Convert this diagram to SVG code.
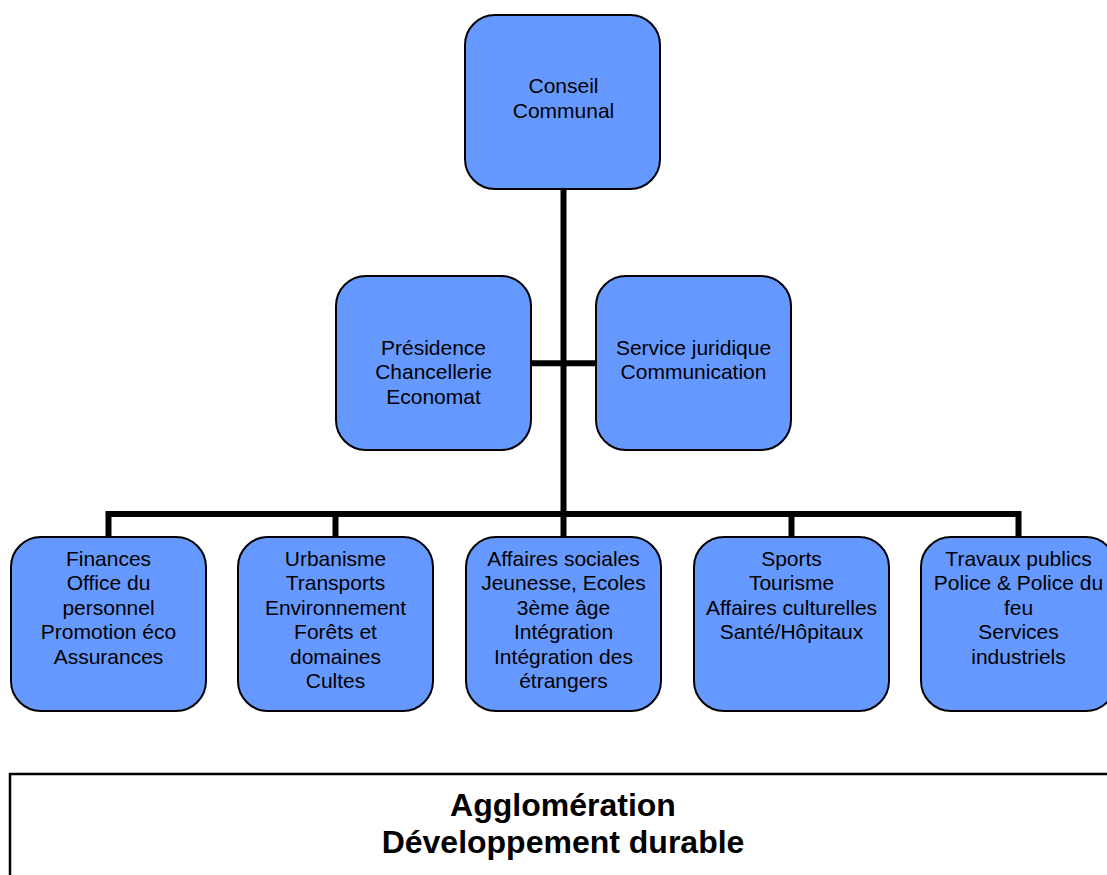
<svg xmlns="http://www.w3.org/2000/svg" width="1107" height="875" viewBox="0 0 1107 875">
<style>
.box{fill:#6699FF;stroke:#000;stroke-width:2}
.t{font-family:"Liberation Sans",Arial,sans-serif;font-size:21px;fill:#000;text-anchor:middle}
.c{fill:none;stroke:#000;stroke-width:6;stroke-linejoin:miter;stroke-linecap:butt}
.title{font-family:"Liberation Sans",Arial,sans-serif;font-size:32px;font-weight:bold;fill:#000;text-anchor:middle}
</style>
<rect width="1107" height="875" fill="#fff"/>
<g id="connectors">
<path class="c" d="M563.5 189 V537"/>
<path class="c" d="M531 363.3 H596"/>
<path class="c" d="M108.5 537 V514 H1018.5 V537"/>
<path class="c" d="M335.5 514 V537"/>
<path class="c" d="M791.5 514 V537"/>
</g>
<g id="conseil">
<rect class="box" x="465" y="15" width="195" height="174" rx="30" ry="30"/>
<text class="t" x="563.5" y="93">Conseil</text>
<text class="t" x="563.5" y="117.5">Communal</text>
</g>
<g id="presidence">
<rect class="box" x="336" y="276" width="195" height="174" rx="30" ry="30"/>
<text class="t" x="433.5" y="354.5">Présidence</text>
<text class="t" x="433.5" y="379">Chancellerie</text>
<text class="t" x="433.5" y="403.5">Economat</text>
</g>
<g id="juridique">
<rect class="box" x="596" y="276" width="195" height="174" rx="30" ry="30"/>
<text class="t" x="693.5" y="354.5">Service juridique</text>
<text class="t" x="693.5" y="379">Communication</text>
</g>
<g id="finances">
<rect class="box" x="11" y="537" width="195" height="174" rx="30" ry="30"/>
<text class="t" x="108.5" y="565.5">Finances</text>
<text class="t" x="108.5" y="590">Office du</text>
<text class="t" x="108.5" y="614.5">personnel</text>
<text class="t" x="108.5" y="639">Promotion éco</text>
<text class="t" x="108.5" y="663.5">Assurances</text>
</g>
<g id="urbanisme">
<rect class="box" x="238" y="537" width="195" height="174" rx="30" ry="30"/>
<text class="t" x="335.5" y="565.5">Urbanisme</text>
<text class="t" x="335.5" y="590">Transports</text>
<text class="t" x="335.5" y="614.5">Environnement</text>
<text class="t" x="335.5" y="639">Forêts et</text>
<text class="t" x="335.5" y="663.5">domaines</text>
<text class="t" x="335.5" y="688">Cultes</text>
</g>
<g id="sociales">
<rect class="box" x="466" y="537" width="195" height="174" rx="30" ry="30"/>
<text class="t" x="563.5" y="565.5">Affaires sociales</text>
<text class="t" x="563.5" y="590">Jeunesse, Ecoles</text>
<text class="t" x="563.5" y="614.5">3ème âge</text>
<text class="t" x="563.5" y="639">Intégration</text>
<text class="t" x="563.5" y="663.5">Intégration des</text>
<text class="t" x="563.5" y="688">étrangers</text>
</g>
<g id="sports">
<rect class="box" x="694" y="537" width="195" height="174" rx="30" ry="30"/>
<text class="t" x="791.5" y="565.5">Sports</text>
<text class="t" x="791.5" y="590">Tourisme</text>
<text class="t" x="791.5" y="614.5">Affaires culturelles</text>
<text class="t" x="791.5" y="639">Santé/Hôpitaux</text>
</g>
<g id="travaux">
<rect class="box" x="921" y="537" width="195" height="174" rx="30" ry="30"/>
<text class="t" x="1018.5" y="565.5">Travaux publics</text>
<text class="t" x="1018.5" y="590">Police &amp; Police du</text>
<text class="t" x="1018.5" y="614.5">feu</text>
<text class="t" x="1018.5" y="639">Services</text>
<text class="t" x="1018.5" y="663.5">industriels</text>
</g>
<g id="agglomeration">
<rect x="10" y="774" width="1120" height="130" fill="#fff" stroke="#000" stroke-width="2.5"/>
<text class="title" x="563" y="816">Agglomération</text>
<text class="title" x="563" y="853">Développement durable</text>
</g>
</svg>
